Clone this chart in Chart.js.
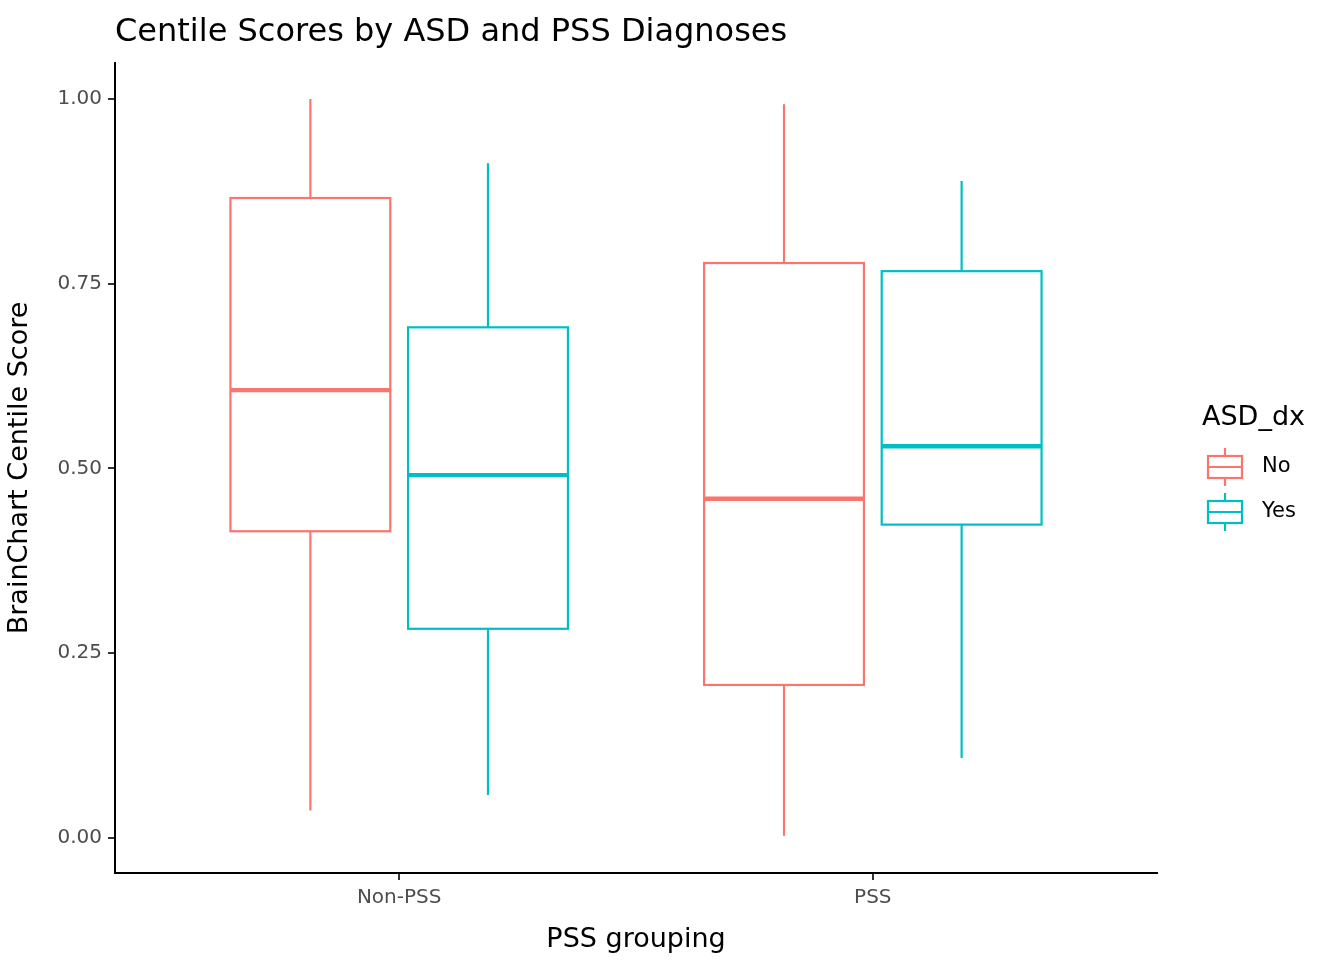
<!DOCTYPE html>
<html><head><meta charset="utf-8">
<script src="https://cdn.jsdelivr.net/npm/chart.js"></script>
<style>body{margin:0;background:#fff}</style>
</head><body>
<canvas id="c" width="1344" height="960"></canvas>
<script>
// data
const groups = ['Non-PSS', 'PSS'];
const series = ['No', 'Yes'];
const colors = ['#F8766D', '#00BFC4'];
// [low whisker, Q1, median, Q3, high whisker]
const noStats = [[0.037, 0.415, 0.606, 0.866, 1.0], [0.003, 0.207, 0.459, 0.778, 0.993]];
const yesStats = [[0.058, 0.283, 0.491, 0.691, 0.913], [0.108, 0.424, 0.530, 0.767, 0.889]];
const yTicks = [0, 0.25, 0.5, 0.75, 1.0];

const allStats = [noStats, yesStats];
const dodge = 0.1875, boxW = 0.3375;
const FONT = 'DejaVu Sans';

const boxPlugin = {
    id: 'boxes',
    afterDatasetsDraw(chart) {
        const ctx = chart.ctx, x = chart.scales.x, y = chart.scales.y;
        allStats.forEach((stats, s) => {
            stats.forEach((st, g) => {
                const c = g + 1 + (s === 0 ? -dodge : dodge);
                const xl = x.getPixelForValue(c - boxW / 2), xr = x.getPixelForValue(c + boxW / 2);
                const xc = x.getPixelForValue(c);
                const [lo, q1, med, q3, hi] = st.map(v => y.getPixelForValue(v));
                ctx.save();
                ctx.strokeStyle = colors[s];
                ctx.lineWidth = 2.2;
                ctx.beginPath();
                ctx.moveTo(xc, hi); ctx.lineTo(xc, q3);
                ctx.moveTo(xc, q1); ctx.lineTo(xc, lo);
                ctx.stroke();
                ctx.strokeRect(xl, q3, xr - xl, q1 - q3);
                ctx.lineWidth = 4.4;
                ctx.beginPath();
                ctx.moveTo(xl, med); ctx.lineTo(xr, med);
                ctx.stroke();
                ctx.restore();
            });
        });
        // title
        ctx.save();
        ctx.fillStyle = '#000';
        ctx.font = '32px ' + FONT;
        ctx.textBaseline = 'alphabetic';
        ctx.fillText('Centile Scores by ASD and PSS Diagnoses', 115, 41);
        // legend
        ctx.font = '27px ' + FONT;
        ctx.fillText('ASD_dx', 1202, 425);
        ctx.font = '21px ' + FONT;
        series.forEach((name, i) => {
            const cy = 467 + i * 45;
            ctx.strokeStyle = colors[i];
            ctx.lineWidth = 2.2;
            ctx.beginPath();
            ctx.moveTo(1225, cy - 19); ctx.lineTo(1225, cy - 11);
            ctx.moveTo(1225, cy + 11); ctx.lineTo(1225, cy + 19);
            ctx.stroke();
            ctx.strokeRect(1208, cy - 11, 34, 22);
            ctx.beginPath();
            ctx.moveTo(1208, cy); ctx.lineTo(1242, cy);
            ctx.stroke();
            ctx.fillStyle = '#000';
            ctx.textBaseline = 'middle';
            ctx.fillText(name, 1262, cy);
        });
        ctx.restore();
    }
};

new Chart(document.getElementById('c'), {
    type: 'scatter',
    data: { datasets: series.map((s, i) => ({ label: s, data: [], borderColor: colors[i] })) },
    options: {
        responsive: false,
        devicePixelRatio: 1,
        animation: false,
        layout: { padding: { top: 63, right: 187, left: 0, bottom: 0 } },
        plugins: { legend: { display: false }, tooltip: { enabled: false } },
        scales: {
            x: {
                type: 'linear', min: 0.4, max: 2.6,
                afterBuildTicks: sc => { sc.ticks = groups.map((g, i) => ({ value: i + 1 })); },
                afterFit: sc => { sc.height = 87; },
                ticks: { callback: v => groups[v - 1], color: '#4d4d4d', font: { family: FONT, size: 20 }, padding: 6 },
                grid: { drawOnChartArea: false, tickLength: 7, color: '#333', lineWidth: 2 },
                border: { color: '#000', width: 2 },
                title: { display: true, text: 'PSS grouping', color: '#000', font: { family: FONT, size: 27 }, padding: { top: 2 } }
            },
            y: {
                min: -0.0475, max: 1.0487,
                afterBuildTicks: sc => { sc.ticks = yTicks.map(v => ({ value: v })); },
                afterFit: sc => { sc.width = 115; },
                ticks: { callback: v => v.toFixed(2), color: '#4d4d4d', font: { family: FONT, size: 20 }, padding: 6 },
                grid: { drawOnChartArea: false, tickLength: 7, color: '#333', lineWidth: 2 },
                border: { color: '#000', width: 2 },
                title: { display: true, text: 'BrainChart Centile Score', color: '#000', font: { family: FONT, size: 27 }, padding: { bottom: 4 } }
            }
        }
    },
    plugins: [boxPlugin]
});
</script>
</body></html>
